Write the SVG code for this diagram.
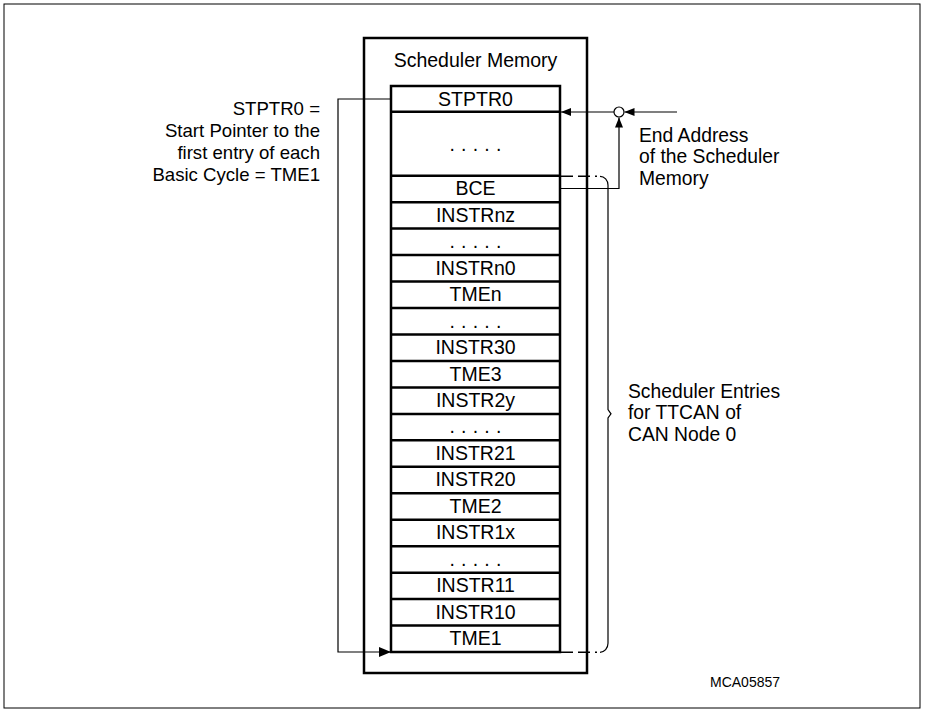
<svg xmlns="http://www.w3.org/2000/svg" width="925" height="712" viewBox="0 0 925 712">
<style>
text{font-family:"Liberation Sans",Arial,Helvetica,sans-serif;fill:#000}
.row{font-size:19.5px;text-anchor:middle}
.dots{font-size:19.5px;letter-spacing:6.2px}
.lbl{font-size:18.6px;text-anchor:end}
.rlbl{font-size:19.3px}
.thick{fill:none;stroke:#000;stroke-width:2.5}
.thin{fill:none;stroke:#000;stroke-width:1.2}
.dash{fill:none;stroke:#000;stroke-width:1.6;stroke-dasharray:13 5 12 5 2 3}
</style>
<defs>
<marker id="ah" viewBox="0 0 10 8" refX="10" refY="4" markerWidth="10" markerHeight="8" markerUnits="userSpaceOnUse" orient="auto"><path d="M0,0 L10,4 L0,8 z" fill="#000"/></marker>
<marker id="ahL" viewBox="0 0 12 10" refX="12" refY="5" markerWidth="12" markerHeight="10" markerUnits="userSpaceOnUse" orient="auto"><path d="M0,0 L12,5 L0,10 z" fill="#000"/></marker>
</defs>
<rect x="0" y="0" width="925" height="712" fill="#fff"/>
<rect x="4" y="4" width="916" height="704" fill="none" stroke="#000" stroke-width="1"/>

<g id="scheduler-memory">
<rect class="thick" x="364" y="38" width="223" height="635"/>
<text x="475.5" y="67" class="row">Scheduler Memory</text>
</g>

<g id="memory-column">
<rect class="thick" x="391" y="86" width="169" height="566"/>
<path class="thick" d="M391,111.7H560M391,175.7H560M391,202.2H560M391,228.6H560M391,255.1H560M391,281.5H560M391,308H560M391,334.5H560M391,361H560M391,387.4H560M391,413.9H560M391,440.3H560M391,466.8H560M391,493.3H560M391,519.7H560M391,546.2H560M391,572.7H560M391,599.1H560M391,625.6H560"/>
</g>
<g id="row-stptr0"><text x="475.5" y="106" class="row">STPTR0</text></g>
<g id="row-gap0"><text x="449.5" y="150.5" class="dots">.....</text></g>
<g id="row-bce"><text x="475.5" y="195.2" class="row">BCE</text></g>
<g id="row-instrnz"><text x="475.5" y="221.7" class="row">INSTRnz</text></g>
<g id="row-gap1"><text x="449.5" y="248.1" class="dots">.....</text></g>
<g id="row-instrn0"><text x="475.5" y="274.6" class="row">INSTRn0</text></g>
<g id="row-tmen"><text x="475.5" y="301" class="row">TMEn</text></g>
<g id="row-gap2"><text x="449.5" y="327.5" class="dots">.....</text></g>
<g id="row-instr30"><text x="475.5" y="354" class="row">INSTR30</text></g>
<g id="row-tme3"><text x="475.5" y="380.5" class="row">TME3</text></g>
<g id="row-instr2y"><text x="475.5" y="406.9" class="row">INSTR2y</text></g>
<g id="row-gap3"><text x="449.5" y="433.4" class="dots">.....</text></g>
<g id="row-instr21"><text x="475.5" y="459.8" class="row">INSTR21</text></g>
<g id="row-instr20"><text x="475.5" y="486.3" class="row">INSTR20</text></g>
<g id="row-tme2"><text x="475.5" y="512.8" class="row">TME2</text></g>
<g id="row-instr1x"><text x="475.5" y="539.2" class="row">INSTR1x</text></g>
<g id="row-gap4"><text x="449.5" y="565.7" class="dots">.....</text></g>
<g id="row-instr11"><text x="475.5" y="592.2" class="row">INSTR11</text></g>
<g id="row-instr10"><text x="475.5" y="618.6" class="row">INSTR10</text></g>
<g id="row-tme1"><text x="475.5" y="645.1" class="row">TME1</text></g>

<g id="label-stptr0">
<text x="320" y="114.5" class="lbl">STPTR0 =</text>
<text x="320" y="136.5" class="lbl">Start Pointer to the</text>
<text x="320" y="158.5" class="lbl">first entry of each</text>
<text x="320" y="180.5" class="lbl">Basic Cycle = TME1</text>
</g>

<g id="label-end-address">
<text x="639" y="141.5" class="rlbl">End Address</text>
<text x="639" y="163" class="rlbl">of the Scheduler</text>
<text x="639" y="184.5" class="rlbl">Memory</text>
</g>

<g id="label-entries">
<text x="628" y="397.5" class="rlbl">Scheduler Entries</text>
<text x="628" y="419" class="rlbl">for TTCAN of</text>
<text x="628" y="440.5" class="rlbl">CAN Node 0</text>
</g>

<g id="label-id"><text x="710" y="686.7" font-size="14">MCA05857</text></g>

<g id="connectors">
<polyline class="thin" points="391,99 338,99 338,652 391,652" marker-end="url(#ahL)"/>
<line class="thin" x1="614" y1="112" x2="561" y2="112" marker-end="url(#ah)"/>
<line class="thin" x1="677" y1="112" x2="624.5" y2="112" marker-end="url(#ah)"/>
<polyline class="thin" points="560,188.5 619,188.5 619,117.5" marker-end="url(#ah)"/>
<circle cx="619" cy="112" r="5" fill="#fff" stroke="#000" stroke-width="1.2"/>
<line class="dash" x1="560" y1="176.3" x2="600" y2="176.3"/>
<line class="dash" x1="560" y1="652.3" x2="600" y2="652.3"/>
<path class="thin" d="M600,176.3 A8,9 0 0 1 608,185.3 V409.5 L611,413.8 L608,418 V643.3 A8,9 0 0 1 600,652.3"/>
</g>
</svg>
